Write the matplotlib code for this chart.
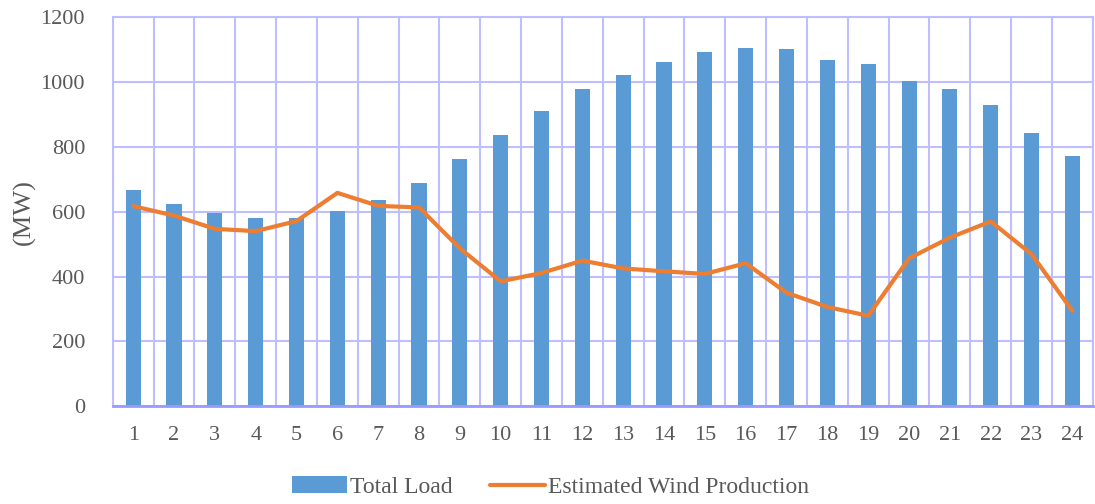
import matplotlib.pyplot as plt
import numpy as np

hours = list(range(1, 25))
total_load = [666, 623, 596, 579, 579, 602, 636, 687, 762, 838, 912, 977,
              1020, 1063, 1091, 1104, 1103, 1069, 1057, 1002, 979, 930, 844, 772]
wind_production = [617, 588, 547, 540, 571, 658, 618, 613, 487, 385, 411, 449,
                   425, 416, 408, 441, 350, 306, 279, 456, 520, 570, 469, 294]
y_ticks = [0, 200, 400, 600, 800, 1000, 1200]

BAR_COLOR = "#5B9BD5"
LINE_COLOR = "#ED7D31"
GRID_COLOR = "#BFBFFF"
AXIS_COLOR = "#9999FF"
TEXT_COLOR = "#595959"

plt.rcParams["font.family"] = ["Liberation Serif", "DejaVu Serif"]

fig = plt.figure(figsize=(10.95, 5.04), dpi=100)
ax = fig.add_axes([0.103, 0.194, 0.895, 0.772])

x = np.array(hours)
bars = ax.bar(x, total_load, width=0.37, color=BAR_COLOR, label="Total Load", zorder=2)
line, = ax.plot(x, wind_production, color=LINE_COLOR, linewidth=3,
                label="Estimated Wind Production", zorder=3, solid_capstyle="round")

ax.set_xlim(0.5, 24.5)
ax.set_ylim(0, 1200)
ax.set_xticks(x)
ax.set_xticklabels([str(h) for h in hours])
ax.set_xticks(np.arange(0.5, 25, 1), minor=True)
ax.set_yticks(y_ticks)
ax.tick_params(axis="both", which="both", length=0, labelsize=16, colors=TEXT_COLOR)
ax.tick_params(axis="x", pad=14)
ax.tick_params(axis="y", pad=20)

ax.grid(axis="y", which="major", color=GRID_COLOR, linewidth=1.5, zorder=0)
ax.grid(axis="x", which="minor", color=GRID_COLOR, linewidth=1.5, zorder=0)
ax.set_axisbelow(True)

for side in ["top", "right", "left"]:
    ax.spines[side].set_color(GRID_COLOR)
    ax.spines[side].set_linewidth(1.5)
ax.spines["bottom"].set_color(AXIS_COLOR)
ax.spines["bottom"].set_linewidth(2)

ax.set_ylabel("(MW)", fontsize=19, color=TEXT_COLOR, labelpad=3)

fig.legend(handles=[bars, line], loc="lower center", bbox_to_anchor=(0.503, -0.03),
           ncol=2, frameon=False, fontsize=17, labelcolor=TEXT_COLOR,
           handlelength=2.3, handletextpad=0.15, columnspacing=1.6)

fig.savefig("out.png", dpi=100, facecolor="white")
